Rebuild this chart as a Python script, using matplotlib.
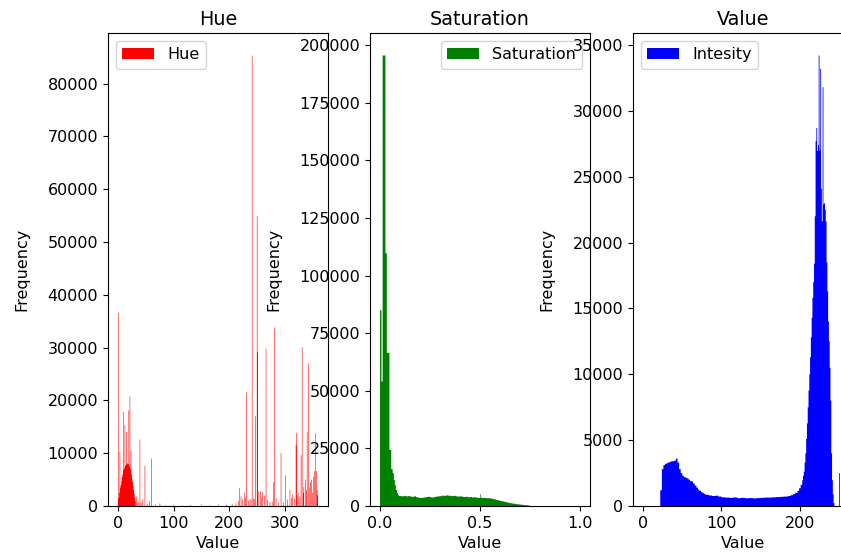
import numpy as np
import matplotlib
matplotlib.use("Agg")
import matplotlib.pyplot as plt

plt.rcParams["font.size"] = 11.5

# Hue histogram (degrees -> pixel count)
hue_deg = [0, 1, 2, 3, 4, 5, 6, 7, 8, 9, 10, 11, 12, 13, 14, 15, 16, 17, 18, 19,
           20, 21, 22, 23, 24, 25, 26, 27, 28, 29, 30, 31, 33, 35, 37, 39, 41, 44,
           48, 52, 56, 60, 67, 75, 85, 100, 115, 130, 150, 165, 180, 195, 205, 212,
           216, 218, 221, 224, 227, 229, 231, 234, 237, 239, 241, 243, 245, 247,
           250, 251, 253, 256, 258, 260, 263, 266, 269, 273, 277, 279, 281, 284,
           288, 293, 297, 301, 305, 309, 312, 314, 317, 320, 321, 323, 325, 327,
           329, 331, 333, 334, 337, 339, 340, 342, 344, 346, 348, 350, 351, 353,
           355, 357, 358, 359]
hue_count = [36600, 1500, 2500, 10250, 3500, 4000, 4800, 5500, 6000, 17800, 6800,
             7200, 15300, 7600, 7800, 14000, 8000, 8100, 7900, 18100, 7500, 20750,
             7000, 10500, 6000, 5200, 4500, 3800, 3000, 2300, 1500, 900, 1800, 500,
             800, 12600, 600, 1200, 7600, 400, 900, 9000, 300, 500, 150, 250, 150,
             200, 300, 150, 300, 250, 400, 500, 900, 3400, 1800, 1300, 2500, 1500,
             21600, 1000, 1400, 1200, 85300, 1500, 1300, 17000, 54900, 29100, 2800,
             2800, 1600, 2600, 2000, 29800, 1200, 700, 800, 4500, 33800, 1500, 600,
             10000, 700, 5800, 1200, 3100, 1500, 2200, 1400, 11600, 13800, 2000,
             2500, 1800, 9600, 30100, 2500, 3600, 5000, 3000, 14000, 27000, 3500,
             4500, 5000, 2500, 5500, 6600, 13800, 6600, 3000, 2000]

# Saturation histogram: left bin edges and counts
sat_left = [0.000, 0.007, 0.013, 0.027, 0.034, 0.047, 0.056, 0.063, 0.069, 0.074,
            0.079, 0.085, 0.090, 0.095,
            0.10, 0.11, 0.12, 0.13, 0.14, 0.15, 0.16, 0.17, 0.18, 0.19,
            0.20, 0.21, 0.22, 0.23, 0.24, 0.25, 0.26, 0.27, 0.28, 0.29,
            0.30, 0.31, 0.32, 0.33, 0.34, 0.35, 0.36, 0.37, 0.38, 0.39,
            0.40, 0.41, 0.42, 0.43, 0.44, 0.45, 0.46, 0.47, 0.48, 0.49,
            0.500, 0.503, 0.51, 0.52, 0.53, 0.54, 0.55, 0.56, 0.57, 0.58, 0.59,
            0.60, 0.61, 0.62, 0.63, 0.64, 0.65, 0.66, 0.67, 0.68, 0.69,
            0.70, 0.71, 0.72, 0.73, 0.74]
sat_end = 0.75
sat_count = [85000, 54000, 195500, 109700, 66500, 24300, 16000, 14300, 11300, 9100,
             6900, 5600, 4700, 4300,
             4300, 4200, 4400, 4200, 4300, 4100, 4000, 4200, 3800, 3600,
             3500, 3600, 3700, 3900, 4000, 3800, 3700, 3900, 4100, 4200,
             4300, 4500, 4400, 4600, 4500, 4400, 4300, 4400, 4200, 4100,
             4200, 4000, 3900, 4000, 3800, 3900, 3700, 3800, 3600, 3500,
             5200, 3600, 3500, 3500, 3400, 3400, 3300, 3100, 2900, 2600, 2400,
             2200, 2000, 1800, 1600, 1400, 1200, 1100, 950, 800, 700,
             600, 500, 400, 300, 200]

# Value (intensity) histogram: left bin edges and counts
val_left = [22, 24, 26, 28, 30, 32, 34, 36, 38, 40, 42, 44, 46, 48, 50, 52, 54, 56,
            58, 60, 62, 64, 66, 68, 70, 72, 74, 76, 78, 80, 84, 88, 92, 96, 100,
            105, 110, 115, 120, 125, 130, 135, 140, 145, 150, 155, 160, 165, 170,
            175, 180, 185, 188, 191, 194, 197, 199, 201, 203, 204, 205, 206, 207,
            208, 209, 210, 211, 212, 213, 214, 215, 216, 217, 218, 219, 220, 221,
            222, 223, 224, 225, 226, 227, 228, 229, 230, 231, 232, 233, 234, 235,
            236, 237, 238, 239, 240, 241, 242, 243, 244, 250, 251, 255]
val_end = 256
val_count = [1200, 2800, 3100, 3200, 3250, 3300, 3350, 3400, 3400, 3450, 3600, 3300,
             2800, 2500, 2300, 2200, 2150, 2100, 2000, 1900, 1850, 1700, 1550, 1400,
             1250, 1150, 1050, 980, 900, 850, 800, 760, 780, 720, 660, 640, 620, 650,
             600, 620, 590, 600, 580, 600, 620, 640, 640, 660, 680, 700, 720, 760,
             820, 900, 1000, 1150, 1350, 1600, 1960, 2300, 2600, 3300, 4000, 5100,
             6270, 7500, 8770, 10000, 11300, 12800, 14300, 15800, 17000, 18400,
             22000, 27700, 28700, 26950, 27400, 34200, 27000, 33200, 24100, 21600,
             31800, 22900, 23000, 22500, 21600, 18500, 16300, 14000, 12500, 10500,
             8000, 4000, 1960, 900, 230, 0, 2500, 0, 3100]

fig = plt.figure(figsize=(8.41, 5.56), dpi=100)
ax1 = fig.add_axes([0.1284, 0.0899, 0.2616, 0.8507])
ax2 = fig.add_axes([0.4400, 0.0899, 0.2616, 0.8507])
ax3 = fig.add_axes([0.7527, 0.0899, 0.2616, 0.8507])

# Hue
ax1.hist(hue_deg, bins=360, range=(0, 360), weights=hue_count, color="red",
         histtype="stepfilled", label="Hue", snap=False)
ax1.set_xlim(-18, 378)
ax1.set_xticks([0, 100, 200, 300])
ax1.set_yticks(np.arange(0, 80001, 10000))
ax1.set_title("Hue")
ax1.set_xlabel("Value")
ax1.set_ylabel("Frequency", labelpad=13)
ax1.legend(loc="upper left")

# Saturation
ax2.hist(sat_left, bins=sat_left + [sat_end], weights=sat_count, color="green",
         histtype="stepfilled", label="Saturation", snap=False)
ax2.set_xlim(-0.05, 1.05)
ax2.set_xticks([0.0, 0.5, 1.0])
ax2.set_yticks(np.arange(0, 200001, 25000))
ax2.set_title("Saturation")
ax2.set_xlabel("Value")
ax2.set_ylabel("Frequency", labelpad=13)
ax2.legend(loc="upper right")

# Value
ax3.hist(val_left, bins=val_left + [val_end], weights=val_count, color="blue",
         histtype="stepfilled", label="Intesity", snap=False)
ax3.set_xlim(-12.75, 267.75)
ax3.set_xticks([0, 100, 200])
ax3.set_yticks(np.arange(0, 35001, 5000))
ax3.set_title("Value")
ax3.set_xlabel("Value")
ax3.set_ylabel("Frequency", labelpad=13)
ax3.legend(loc="upper left")

fig.savefig("out.png", dpi=100)
